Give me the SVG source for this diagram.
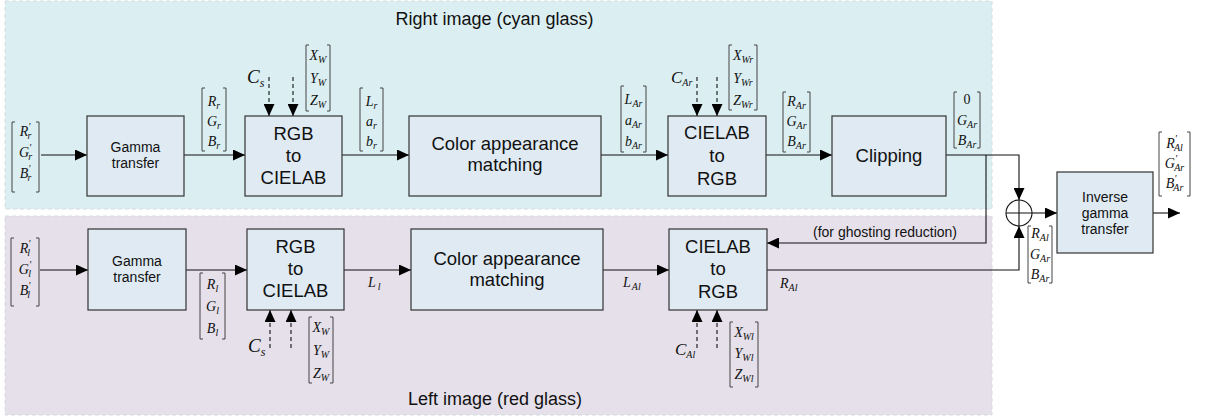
<svg xmlns="http://www.w3.org/2000/svg" width="1205" height="418" viewBox="0 0 1205 418">
<style>
.panel{stroke:#d4dcde;stroke-width:1;stroke-dasharray:4,3}
.box{fill:#dfeaf3;stroke:#333;stroke-width:1.2}
.t{font-family:"Liberation Sans",Arial,sans-serif;fill:#111;text-anchor:middle}
.big{font-size:18.5px}
.small{font-size:14px}
.title{font-family:"Liberation Sans",Arial,sans-serif;font-size:18px;fill:#111}
.m{font-family:"Liberation Serif","Times New Roman",serif;font-style:italic;font-size:14px;fill:#111;text-anchor:middle}
.ml{font-family:"Liberation Serif","Times New Roman",serif;font-style:italic;fill:#111}
.s{font-size:10px}
.br{fill:none;stroke:#444;stroke-width:1}
.c{fill:none;stroke:#111;stroke-width:1.1}
.a{marker-end:url(#ah)}
.d{stroke-dasharray:4,3}
</style>
<defs>
<marker id="ah" markerWidth="12" markerHeight="11" refX="12" refY="5.5" orient="auto" markerUnits="userSpaceOnUse"><path d="M0,0 L12,5.5 L0,11 z" fill="#000"/></marker>
</defs>

<g id="panels">
<rect class="panel" x="5" y="1" width="987" height="208" fill="#dbeff3"/>
<rect class="panel" x="5" y="216" width="987" height="199" fill="#e5e0ea"/>
<text class="title" x="494.5" y="25" text-anchor="middle">Right image (cyan glass)</text>
<text class="title" x="495" y="405" text-anchor="middle">Left image (red glass)</text>
</g>

<g id="connectors">
<path class="c a" d="M41,155 H87"/>
<path class="c a" d="M184,155 H245"/>
<path class="c a" d="M342,155 H409"/>
<path class="c a" d="M601,155 H668"/>
<path class="c a" d="M766,155 H832"/>
<path class="c a" d="M946,155 H1019 V200"/>
<path class="c a" d="M986,155 V243 H767"/>
<path class="c a" d="M767,270 H1019 V226"/>
<path class="c a" d="M1032,213 H1057"/>
<path class="c a" d="M1153,213 H1180"/>
<path class="c a" d="M40,270 H88"/>
<path class="c a" d="M186,270 H247"/>
<path class="c a" d="M344,270 H411"/>
<path class="c a" d="M603,270 H669"/>
<path class="c a d" d="M269,77 V116"/>
<path class="c a d" d="M293,77 V116"/>
<path class="c a d" d="M697,77 V116"/>
<path class="c a d" d="M717,77 V116"/>
<path class="c a d" d="M270,348 V310"/>
<path class="c a d" d="M291,348 V310"/>
<path class="c a d" d="M697,348 V310"/>
<path class="c a d" d="M717,348 V310"/>
<text class="t small" x="885" y="237">(for ghosting reduction)</text>
</g>

<g id="sum">
<circle cx="1019" cy="213" r="13" fill="none" stroke="#111" stroke-width="1.1"/>
<path d="M1006,213 H1032 M1019,200 V226" stroke="#111" stroke-width="1.1"/>
</g>

<g id="gamma-r"><rect class="box" x="87" y="116" width="97" height="80"/>
<text class="t small" x="135.5" y="152">Gamma</text><text class="t small" x="135.5" y="168">transfer</text></g>
<g id="rgb2lab-r"><rect class="box" x="245" y="116" width="97" height="80"/>
<text class="t big" x="293.5" y="140">RGB</text><text class="t big" x="293.5" y="162">to</text><text class="t big" x="293.5" y="184">CIELAB</text></g>
<g id="cam-r"><rect class="box" x="409" y="116" width="192" height="80"/>
<text class="t big" x="505" y="150">Color appearance</text><text class="t big" x="505" y="171">matching</text></g>
<g id="lab2rgb-r"><rect class="box" x="668" y="116" width="98" height="80"/>
<text class="t big" x="717" y="139">CIELAB</text><text class="t big" x="717" y="162">to</text><text class="t big" x="717" y="185">RGB</text></g>
<g id="clipping"><rect class="box" x="832" y="116" width="114" height="80"/>
<text class="t big" x="889" y="162">Clipping</text></g>
<g id="invgamma"><rect class="box" x="1057" y="172" width="96" height="81"/>
<text class="t small" x="1105" y="202">Inverse</text><text class="t small" x="1105" y="218">gamma</text><text class="t small" x="1105" y="234">transfer</text></g>

<g id="gamma-l"><rect class="box" x="88" y="229" width="98" height="81"/>
<text class="t small" x="137" y="265.5">Gamma</text><text class="t small" x="137" y="281.5">transfer</text></g>
<g id="rgb2lab-l"><rect class="box" x="247" y="229" width="97" height="81"/>
<text class="t big" x="295.5" y="253">RGB</text><text class="t big" x="295.5" y="275">to</text><text class="t big" x="295.5" y="297">CIELAB</text></g>
<g id="cam-l"><rect class="box" x="411" y="229" width="192" height="81"/>
<text class="t big" x="507" y="265">Color appearance</text><text class="t big" x="507" y="286">matching</text></g>
<g id="lab2rgb-l"><rect class="box" x="669" y="229" width="98" height="81"/>
<text class="t big" x="718" y="253">CIELAB</text><text class="t big" x="718" y="275">to</text><text class="t big" x="718" y="298">RGB</text></g>

<g id="labels">
<path class="br" d="M15,122 H12 V192 H15 M36,122 H39 V192 H36"/>
<text class="m" x="25.5" y="136">R<tspan class="s" dy="-6">'</tspan><tspan class="s" dx="-3" dy="9">r</tspan></text>
<text class="m" x="25.5" y="157">G<tspan class="s" dy="-6">'</tspan><tspan class="s" dx="-3" dy="9">r</tspan></text>
<text class="m" x="25.5" y="178">B<tspan class="s" dy="-6">'</tspan><tspan class="s" dx="-3" dy="9">r</tspan></text>
<path class="br" d="M205,88 H202 V151 H205 M223,88 H226 V151 H223"/>
<text class="m" x="214" y="106">R<tspan class="s" dy="3">r</tspan></text>
<text class="m" x="214" y="126">G<tspan class="s" dy="3">r</tspan></text>
<text class="m" x="214" y="146">B<tspan class="s" dy="3">r</tspan></text>
<path class="br" d="M363,88 H360 V151 H363 M380,88 H383 V151 H380"/>
<text class="m" x="371.5" y="106">L<tspan class="s" dy="3">r</tspan></text>
<text class="m" x="371.5" y="126">a<tspan class="s" dy="3">r</tspan></text>
<text class="m" x="371.5" y="146">b<tspan class="s" dy="3">r</tspan></text>
<path class="br" d="M309,45 H306 V111 H309 M327,45 H330 V111 H327"/>
<text class="m" x="318" y="60">X<tspan class="s" dy="3">W</tspan></text>
<text class="m" x="318" y="83">Y<tspan class="s" dy="3">W</tspan></text>
<text class="m" x="318" y="105">Z<tspan class="s" dy="3">W</tspan></text>
<text class="ml" x="247" y="83" style="font-size:19px">C<tspan style="font-size:12px" dy="4">s</tspan></text>
<path class="br" d="M624,86 H621 V152 H624 M643,86 H646 V152 H643"/>
<text class="m" x="633.5" y="104">L<tspan class="s" dy="3">Ar</tspan></text>
<text class="m" x="633.5" y="125">a<tspan class="s" dy="3">Ar</tspan></text>
<text class="m" x="633.5" y="146">b<tspan class="s" dy="3">Ar</tspan></text>
<path class="br" d="M732,45 H729 V110 H732 M754,45 H757 V110 H754"/>
<text class="m" x="743" y="60">X<tspan class="s" dy="3">Wr</tspan></text>
<text class="m" x="743" y="83">Y<tspan class="s" dy="3">Wr</tspan></text>
<text class="m" x="743" y="105">Z<tspan class="s" dy="3">Wr</tspan></text>
<text class="ml" x="671" y="83" style="font-size:17px">C<tspan style="font-size:10px" dy="3">Ar</tspan></text>
<path class="br" d="M786,92 H783 V152 H786 M807,92 H810 V152 H807"/>
<text class="m" x="796.5" y="106">R<tspan class="s" dy="3">Ar</tspan></text>
<text class="m" x="796.5" y="126">G<tspan class="s" dy="3">Ar</tspan></text>
<text class="m" x="796.5" y="146">B<tspan class="s" dy="3">Ar</tspan></text>
<path class="br" d="M957,92 H954 V148 H957 M977,92 H980 V148 H977"/>
<text class="m" x="967" y="104" style="font-style:normal">0</text>
<text class="m" x="967" y="125">G<tspan class="s" dy="3">Ar</tspan></text>
<text class="m" x="967" y="145">B<tspan class="s" dy="3">Ar</tspan></text>
<path class="br" d="M1162,132 H1159 V196 H1162 M1187,132 H1190 V196 H1187"/>
<text class="m" x="1174.5" y="148">R<tspan class="s" dy="-6">'</tspan><tspan class="s" dx="-3" dy="9">Al</tspan></text>
<text class="m" x="1174.5" y="168">G<tspan class="s" dy="-6">'</tspan><tspan class="s" dx="-3" dy="9">Ar</tspan></text>
<text class="m" x="1174.5" y="188">B<tspan class="s" dy="-6">'</tspan><tspan class="s" dx="-3" dy="9">Ar</tspan></text>
<path class="br" d="M1031,226 H1028 V283 H1031 M1049,226 H1052 V283 H1049"/>
<text class="m" x="1040" y="238">R<tspan class="s" dy="3">Al</tspan></text>
<text class="m" x="1040" y="259">G<tspan class="s" dy="3">Ar</tspan></text>
<text class="m" x="1040" y="279">B<tspan class="s" dy="3">Ar</tspan></text>
<path class="br" d="M14,238 H11 V306 H14 M36,238 H39 V306 H36"/>
<text class="m" x="25" y="253">R<tspan class="s" dy="-6">'</tspan><tspan class="s" dx="-3" dy="9">l</tspan></text>
<text class="m" x="25" y="274">G<tspan class="s" dy="-6">'</tspan><tspan class="s" dx="-3" dy="9">l</tspan></text>
<text class="m" x="25" y="295">B<tspan class="s" dy="-6">'</tspan><tspan class="s" dx="-3" dy="9">l</tspan></text>
<path class="br" d="M203,273 H200 V339 H203 M222,273 H225 V339 H222"/>
<text class="m" x="212.5" y="289">R<tspan class="s" dy="3">l</tspan></text>
<text class="m" x="212.5" y="311">G<tspan class="s" dy="3">l</tspan></text>
<text class="m" x="212.5" y="333">B<tspan class="s" dy="3">l</tspan></text>
<path class="br" d="M312,317 H309 V383 H312 M330,317 H333 V383 H330"/>
<text class="m" x="321" y="332">X<tspan class="s" dy="3">W</tspan></text>
<text class="m" x="321" y="355">Y<tspan class="s" dy="3">W</tspan></text>
<text class="m" x="321" y="378">Z<tspan class="s" dy="3">W</tspan></text>
<text class="ml" x="248" y="352" style="font-size:19px">C<tspan style="font-size:12px" dy="4">s</tspan></text>
<path class="br" d="M733,322 H730 V387 H733 M755,322 H758 V387 H755"/>
<text class="m" x="744" y="337">X<tspan class="s" dy="3">Wl</tspan></text>
<text class="m" x="744" y="358">Y<tspan class="s" dy="3">Wl</tspan></text>
<text class="m" x="744" y="379">Z<tspan class="s" dy="3">Wl</tspan></text>
<text class="ml" x="675" y="355" style="font-size:17px">C<tspan style="font-size:10px" dy="3">Al</tspan></text>
<text class="ml" x="368" y="287" style="font-size:14px">L<tspan class="s" dx="2" dy="3">l</tspan></text>
<text class="ml" x="623" y="287" style="font-size:14px">L<tspan class="s" dx="1" dy="3">Al</tspan></text>
<text class="ml" x="780" y="288" style="font-size:14px">R<tspan class="s" dy="3">Al</tspan></text>
</g>
</svg>
